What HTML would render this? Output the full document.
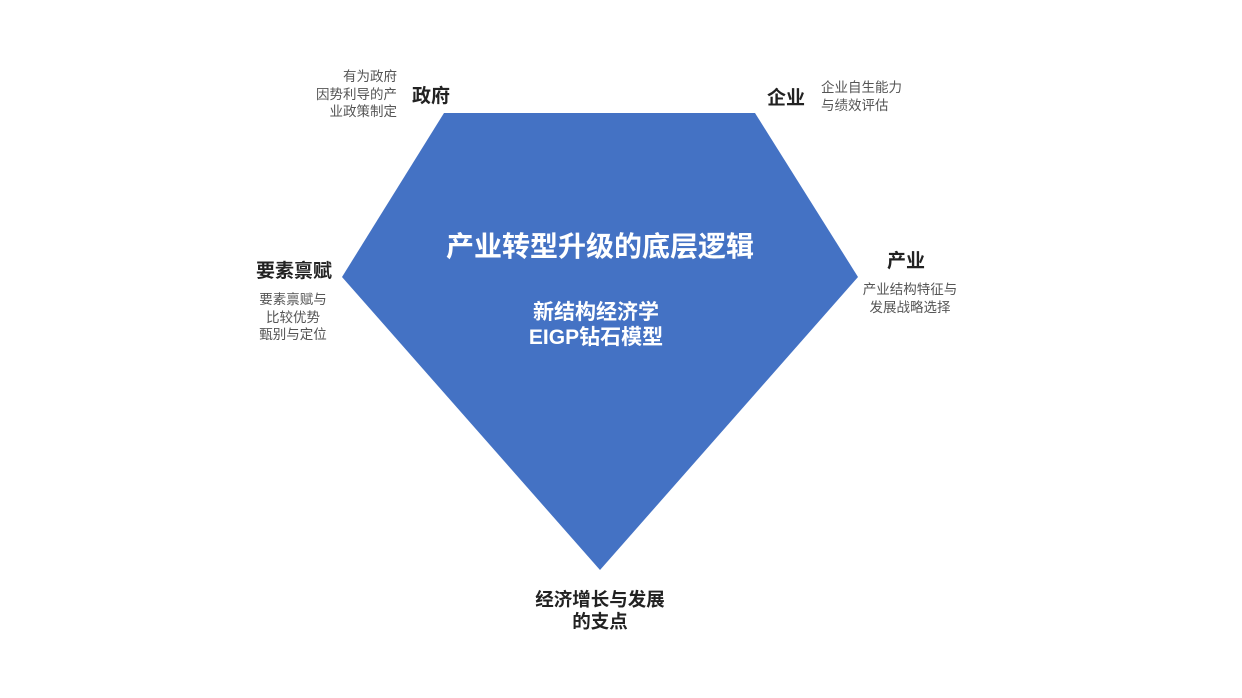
<!DOCTYPE html>
<html><head><meta charset="utf-8"><style>
body{margin:0;width:1242px;height:698px;background:#fff;position:relative;overflow:hidden;font-family:"Liberation Sans","Noto Sans CJK SC",sans-serif}
.t{position:absolute;white-space:nowrap}
.b{font-weight:bold;font-size:19px;line-height:22px;color:#222}
.s{font-size:13.5px;color:#555;line-height:17.5px}
.w{color:#fff;font-weight:bold}
</style></head><body>
<svg width="1242" height="698" style="position:absolute;left:0;top:0">
<polygon points="444,113 755,113 858,277 600,570 342,277" fill="#4472c4"/>
</svg>
<div class="t s" style="left:290px;top:68px;width:107px;text-align:right">有为政府<br>因势利导的产<br>业政策制定</div>
<div class="t b" style="left:412px;top:86px">政府</div>
<div class="t b" style="left:767px;top:88px">企业</div>
<div class="t s" style="left:821px;top:79px">企业自生能力<br>与绩效评估</div>
<div class="t b" style="left:256px;top:261px">要素禀赋</div>
<div class="t s" style="left:250px;top:291px;width:86px;text-align:center">要素禀赋与<br>比较优势<br>甄别与定位</div>
<div class="t b" style="left:887px;top:251px">产业</div>
<div class="t s" style="left:855px;top:281px;width:110px;text-align:center">产业结构特征与<br>发展战略选择</div>
<div class="t w" style="left:400px;top:230px;width:400px;text-align:center;font-size:28px;line-height:34px">产业转型升级的底层逻辑</div>
<div class="t w" style="left:496px;top:300px;width:200px;text-align:center;font-size:21px;line-height:25px">新结构经济学<br>EIGP钻石模型</div>
<div class="t b" style="left:500px;top:589px;width:200px;text-align:center;font-size:18.5px;line-height:22px">经济增长与发展<br>的支点</div>
</body></html>
